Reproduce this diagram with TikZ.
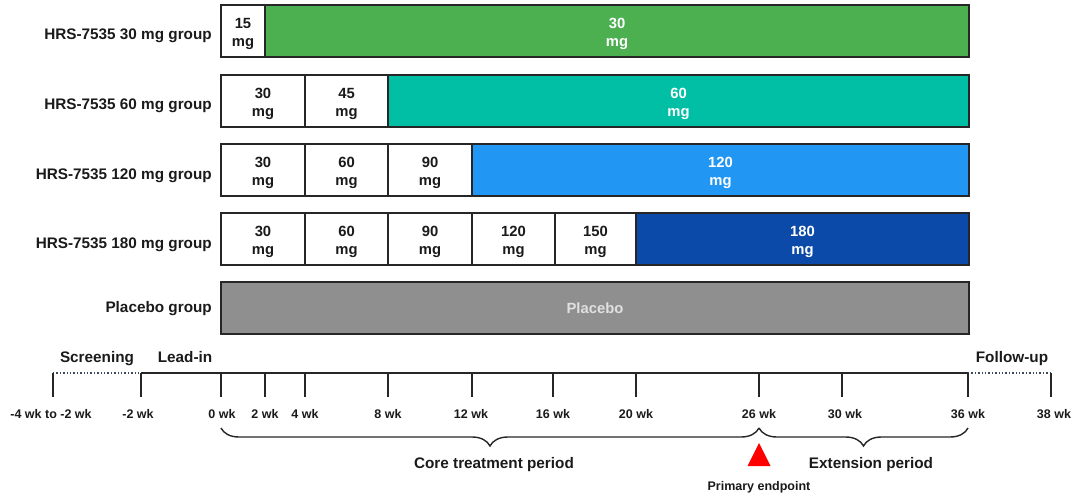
\documentclass[tikz,border=0pt]{standalone}
\usepackage{fontspec}
\setmainfont{Liberation Sans}
\usetikzlibrary{decorations.pathreplacing}
\definecolor{cgreen}{HTML}{4CAF50}
\definecolor{cteal}{HTML}{00BFA5}
\definecolor{clblue}{HTML}{2196F3}
\definecolor{cdblue}{HTML}{0B4AA8}
\definecolor{cgray}{HTML}{8F8F8F}
\definecolor{cline}{HTML}{262626}
\definecolor{cdot}{HTML}{3B4A5A}
\definecolor{ctext}{HTML}{1A1A1A}
\newcommand\segtext[3][ctext]{\node[seglab, text=#1] (#2t) at ([yshift=-3.2pt]#2.center) {#3};}
\begin{document}
\begin{tikzpicture}[x=1pt,y=-1pt,
  seg/.style={draw=cline, line width=1.3pt, fill=white, inner sep=0pt, outer sep=0pt,
    minimum height=52pt},
  seglab/.style={inner sep=0pt, align=center, font=\fontsize{14.8}{18}\selectfont\bfseries},
  grp/.style={anchor=base east, inner sep=0pt, text=ctext, font=\fontsize{15.3}{18}\selectfont\bfseries},
  phase/.style={anchor=base, inner sep=0pt, text=ctext, font=\fontsize{15.3}{18}\selectfont\bfseries},
  ticklab/.style={anchor=base, inner sep=0pt, text=ctext, font=\fontsize{12.5}{15}\selectfont\bfseries},
  tl/.style={draw=cline, line width=1.4pt},
  dotl/.style={draw=cdot, line width=1.4pt, dotted},
  brc/.style={draw=cline, line width=1.4pt, decorate,
    decoration={brace, mirror, amplitude=18pt, aspect=0.5}}
]
\useasboundingbox (0,0) rectangle (1080,498);

% group labels
\node[grp] (g1) at (212,39.3) {HRS-7535 30 mg group};
\node[grp] (g2) at (212,109) {HRS-7535 60 mg group};
\node[grp] (g3) at (212,179) {HRS-7535 120 mg group};
\node[grp] (g4) at (212,248) {HRS-7535 180 mg group};
\node[grp] (g5) at (212,312) {Placebo group};

% row 1
\node[seg, minimum width=44pt] (r1a) at (243,31) {};
\node[seg, fill=cgreen, minimum width=704pt] (r1b) at (617,31) {};
\segtext{r1a}{15\\mg}
\segtext[white]{r1b}{30\\mg}
% row 2
\node[seg, minimum width=84pt] (r2a) at (263,101) {};
\node[seg, minimum width=83pt] (r2b) at (346.5,101) {};
\node[seg, fill=cteal, minimum width=581pt] (r2c) at (678.5,101) {};
\segtext{r2a}{30\\mg}
\segtext{r2b}{45\\mg}
\segtext[white]{r2c}{60\\mg}
% row 3
\node[seg, minimum width=84pt] (r3a) at (263,170) {};
\node[seg, minimum width=83pt] (r3b) at (346.5,170) {};
\node[seg, minimum width=84pt] (r3c) at (430,170) {};
\node[seg, fill=clblue, minimum width=497pt] (r3d) at (720.5,170) {};
\segtext{r3a}{30\\mg}
\segtext{r3b}{60\\mg}
\segtext{r3c}{90\\mg}
\segtext[white]{r3d}{120\\mg}
% row 4
\node[seg, minimum width=84pt] (r4a) at (263,239) {};
\node[seg, minimum width=83pt] (r4b) at (346.5,239) {};
\node[seg, minimum width=84pt] (r4c) at (430,239) {};
\node[seg, minimum width=83pt] (r4d) at (513.5,239) {};
\node[seg, minimum width=81pt] (r4e) at (595.5,239) {};
\node[seg, fill=cdblue, minimum width=333pt] (r4f) at (802.5,239) {};
\segtext{r4a}{30\\mg}
\segtext{r4b}{60\\mg}
\segtext{r4c}{90\\mg}
\segtext{r4d}{120\\mg}
\segtext{r4e}{150\\mg}
\segtext[white]{r4f}{180\\mg}
% row 5
\node[seg, fill=cgray, minimum width=748pt] (r5) at (595,308) {};
\node[seglab, text=white!88!black] (r5t) at (r5.center) {Placebo};

% phase labels
\node[phase] (scr) at (97,362) {Screening};
\node[phase] (lead) at (185,362) {Lead-in};
\node[phase] (fup) at (1012,362) {Follow-up};

% timeline coordinates
\coordinate (tm4) at (53,373);
\coordinate (tm2) at (141,373);
\coordinate (t0) at (221,373);
\coordinate (t2) at (265,373);
\coordinate (t4) at (305,373);
\coordinate (t8) at (388,373);
\coordinate (t12) at (472,373);
\coordinate (t16) at (553,373);
\coordinate (t20) at (636,373);
\coordinate (t26) at (759,373);
\coordinate (t30) at (842,373);
\coordinate (t36) at (968,373);
\coordinate (t38) at (1051,373);

\draw[dotl] (tm4) -- (tm2);
\draw[tl] (tm2) -- (t36);
\draw[dotl] (t36) -- (t38);
\foreach \c in {tm4,tm2,t0,t2,t4,t8,t12,t16,t20,t26,t30,t36,t38}
  \draw[tl] (\c) -- ++(0,24);

% tick labels
\node[ticklab] (lm4) at (51,418) {-4 wk to -2 wk};
\node[ticklab] (lm2) at (138,418) {-2 wk};
\node[ticklab] (l0) at (222,418) {0 wk};
\node[ticklab] (l2) at (265,418) {2 wk};
\node[ticklab] (l4) at (305,418) {4 wk};
\node[ticklab] (l8) at (388,418) {8 wk};
\node[ticklab] (l12) at (471,418) {12 wk};
\node[ticklab] (l16) at (553,418) {16 wk};
\node[ticklab] (l20) at (636,418) {20 wk};
\node[ticklab] (l26) at (759,418) {26 wk};
\node[ticklab] (l30) at (845,418) {30 wk};
\node[ticklab] (l36) at (968,418) {36 wk};
\node[ticklab] (l38) at (1054,418) {38 wk};

% braces
\coordinate (b0) at (221,428);
\coordinate (b26) at (759,428);
\coordinate (b36) at (968,428);
\draw[brc] (b0) -- (b26);
\draw[brc] (b26) -- (b36);
\node[phase] (core) at (494,468) {Core treatment period};
\node[phase] (ext) at (871,468) {Extension period};

% primary endpoint
\fill[red] (747.5,466) -- (759,443) -- (770.5,466) -- cycle;
\node[ticklab] (pe) at (759,490) {Primary endpoint};
\end{tikzpicture}
\end{document}
